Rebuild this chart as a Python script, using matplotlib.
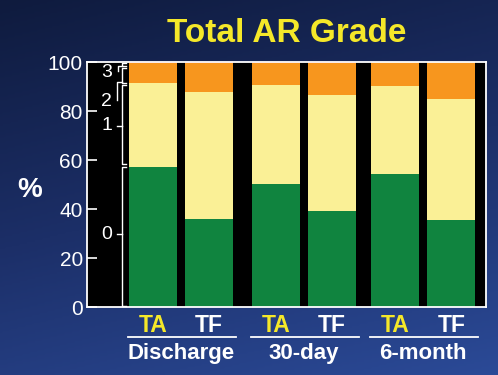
import numpy as np
import matplotlib.pyplot as plt
from matplotlib.colors import LinearSegmentedColormap

plt.rcParams["font.family"] = ["Liberation Sans", "DejaVu Sans"]

# data (percent of patients per AR grade)
groups = ["Discharge", "30-day", "6-month"]
bar_labels = ["TA", "TF", "TA", "TF", "TA", "TF"]
grade0 = [57.3, 35.8, 50.1, 39.0, 54.2, 35.5]
grade1 = [34.0, 51.8, 40.6, 47.5, 35.9, 49.4]
grade2 = [8.1, 12.1, 8.8, 13.0, 9.9, 15.1]
grade3 = [0.6, 0.3, 0.5, 0.5, 0.0, 0.0]
yticks = [0, 20, 40, 60, 80, 100]

xpos = np.array([0, 1, 2.2, 3.2, 4.33, 5.33])
colors = ["#10843f", "#faf096", "#f7961e", "#e8322a"]
label_colors = {"TA": "#f5e829", "TF": "white"}

fig = plt.figure(figsize=(4.98, 3.75), dpi=100)

# background gradient
bg = fig.add_axes([0, 0, 1, 1])
gy, gx = np.mgrid[0:1:200j, 0:1:200j]
grad = 0.75 * gy + 0.25 * gx
cmap = LinearSegmentedColormap.from_list("bg", ["#0f1b3e", "#1c2f68", "#2b4a97"])
bg.imshow(grad, cmap=cmap, aspect="auto", origin="upper", extent=[0, 1, 0, 1])
bg.axis("off")

ax = fig.add_axes([0.1747, 0.1813, 0.8012, 0.6533])
ax.set_facecolor("black")

bottom = np.zeros(len(xpos))
for vals, c in zip([grade0, grade1, grade2, grade3], colors):
    ax.bar(xpos, vals, width=0.86, bottom=bottom, color=c, linewidth=0)
    bottom += np.array(vals)

ax.set_xlim(-1.18, 5.95)
ax.set_ylim(0, 100)
ax.set_yticks(yticks)
ax.set_yticklabels([str(t) for t in yticks], color="white", fontsize=15)
ax.tick_params(axis="y", direction="in", length=7, color="white", width=1.2, pad=3)
ax.set_xticks([])
for s in ax.spines.values():
    s.set_color("white")
    s.set_linewidth(1.3)

# brackets with grade labels
bx = -0.56
def bracket(y0, y1, lw=1):
    ax.plot([bx + 0.08, bx, bx, bx + 0.08], [y0, y0, y1, y1], color="white", lw=lw, clip_on=False)

bracket(0.3, 57.0)
ax.plot([bx, bx - 0.08], [29.8, 29.8], color="white", lw=1)
ax.text(bx - 0.27, 29.8, "0", color="white", fontsize=14, ha="center", va="center")

bracket(58.5, 90.6)
ax.plot([bx, bx - 0.08], [74.0, 74.0], color="white", lw=1)
ax.text(bx - 0.27, 74.0, "1", color="white", fontsize=14, ha="center", va="center")

bracket(91.5, 97.6)
ax.plot([bx, bx - 0.09, bx - 0.09], [92.0, 92.0, 84.5], color="white", lw=1)
ax.text(bx - 0.27, 83.7, "2", color="white", fontsize=14, ha="center", va="center")

bracket(98.2, 99.8)
ax.plot([bx, bx - 0.07, bx - 0.07], [98.5, 98.5, 96.2], color="white", lw=1)
ax.text(bx - 0.27, 95.8, "3", color="white", fontsize=14, ha="center", va="center")

# x labels
trans = ax.get_xaxis_transform()
for x, lab in zip(xpos, bar_labels):
    ax.text(x, -0.075, lab, color=label_colors[lab], fontsize=16.5, fontweight="bold",
            ha="center", va="center", transform=trans)
for i, g in enumerate(groups):
    x0, x1 = xpos[2 * i], xpos[2 * i + 1]
    ax.plot([x0 - 0.45, x1 + 0.48], [-0.122, -0.122], color="white", lw=1.3,
            transform=trans, clip_on=False)
    ax.text((x0 + x1) / 2, -0.19, g, color="white", fontsize=16, fontweight="bold",
            ha="center", va="center", transform=trans)

fig.text(30 / 498, 1 - 190 / 375, "%", color="white", fontsize=20, fontweight="bold",
         ha="center", va="center")
fig.text(287 / 498, 1 - 33 / 375, "Total AR Grade", color="#f5e829", fontsize=24,
         fontweight="bold", ha="center", va="center")

fig.savefig("out.png", dpi=100, facecolor=fig.get_facecolor())
